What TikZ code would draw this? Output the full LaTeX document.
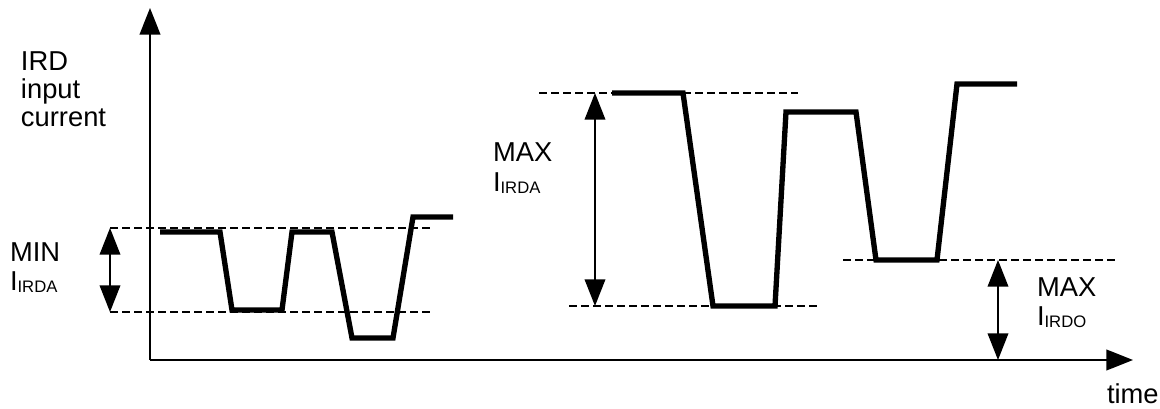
\documentclass[tikz,border=0pt]{standalone}
\usepackage{fontspec}
\setmainfont{Liberation Sans}
\usetikzlibrary{arrows.meta}
\tikzset{
  lbl/.style={anchor=base west, inner sep=0pt, outer sep=0pt, font=\fontsize{20.5}{23}\selectfont},
  axis/.style={line width=1.5pt, -{Triangle[length=20pt,width=15.5pt]}},
  span/.style={line width=1.1pt, {Triangle[length=20pt,width=15.5pt]}-{Triangle[length=20pt,width=15.5pt]}},
  level/.style={line width=1.8pt, dash pattern=on 6pt off 3pt},
  signal/.style={line width=4pt, line join=miter},
}
\newcommand{\sub}[1]{\raisebox{-1pt}{\fontsize{12.5}{13}\selectfont #1}}
\begin{document}
\begin{tikzpicture}[x=0.75pt,y=-0.75pt]
\useasboundingbox (0,0) rectangle (1160,409);
% axes
\coordinate (O) at (150,360);
\coordinate (Ytop) at (150,8);
\coordinate (Xend) at (1133,360);
\draw[axis] (O) -- (Ytop);
\draw[axis] (O) -- (Xend);
% level lines
\coordinate (d1a) at (110,228); \coordinate (d1b) at (433,228);
\coordinate (d2a) at (110,312); \coordinate (d2b) at (433,312);
\coordinate (d3a) at (539,93);  \coordinate (d3b) at (798,93);
\coordinate (d4a) at (569,306); \coordinate (d4b) at (818,306);
\coordinate (d5a) at (843,260); \coordinate (d5b) at (1117,260);
\draw[level] (d1a) -- (d1b);
\draw[level] (d2a) -- (d2b);
\draw[level] (d3a) -- (d3b);
\draw[level] (d4a) -- (d4b);
\draw[level] (d5a) -- (d5b);
% signals
\draw[signal] (160,232) -- (220,232) -- (232,310) -- (282,310) -- (292,232) -- (332,232)
  -- (352,338) -- (393,338) -- (413,217) -- (453,217);
\draw[signal] (612,93) -- (683,93) -- (713,306) -- (775,306) -- (786,112) -- (856,112)
  -- (876,260) -- (937,260) -- (957,84) -- (1017,84);
% spans
\coordinate (a1t) at (110,228); \coordinate (a1b) at (110,312);
\coordinate (a2t) at (595,93);  \coordinate (a2b) at (595,306);
\coordinate (a3t) at (998,260); \coordinate (a3b) at (998,360);
\draw[span] (a1t) -- (a1b);
\draw[span] (a2t) -- (a2b);
\draw[span] (a3t) -- (a3b);
% labels
\node[lbl] (ird) at (21,71) {IRD};
\node[lbl] (inp) at (21,99) {input};
\node[lbl] (cur) at (21,127) {current};
\node[lbl] (min) at (10,262) {MIN};
\node[lbl] (imin) at (10,291) {I\sub{IRDA}};
\node[lbl] (max1) at (493,162) {MAX};
\node[lbl] (imax1) at (493,192) {I\sub{IRDA}};
\node[lbl] (max2) at (1037,297) {MAX};
\node[lbl] (imax2) at (1037,326) {I\sub{IRDO}};
\node[lbl] (time) at (1107,403) {time};
\end{tikzpicture}
\end{document}
